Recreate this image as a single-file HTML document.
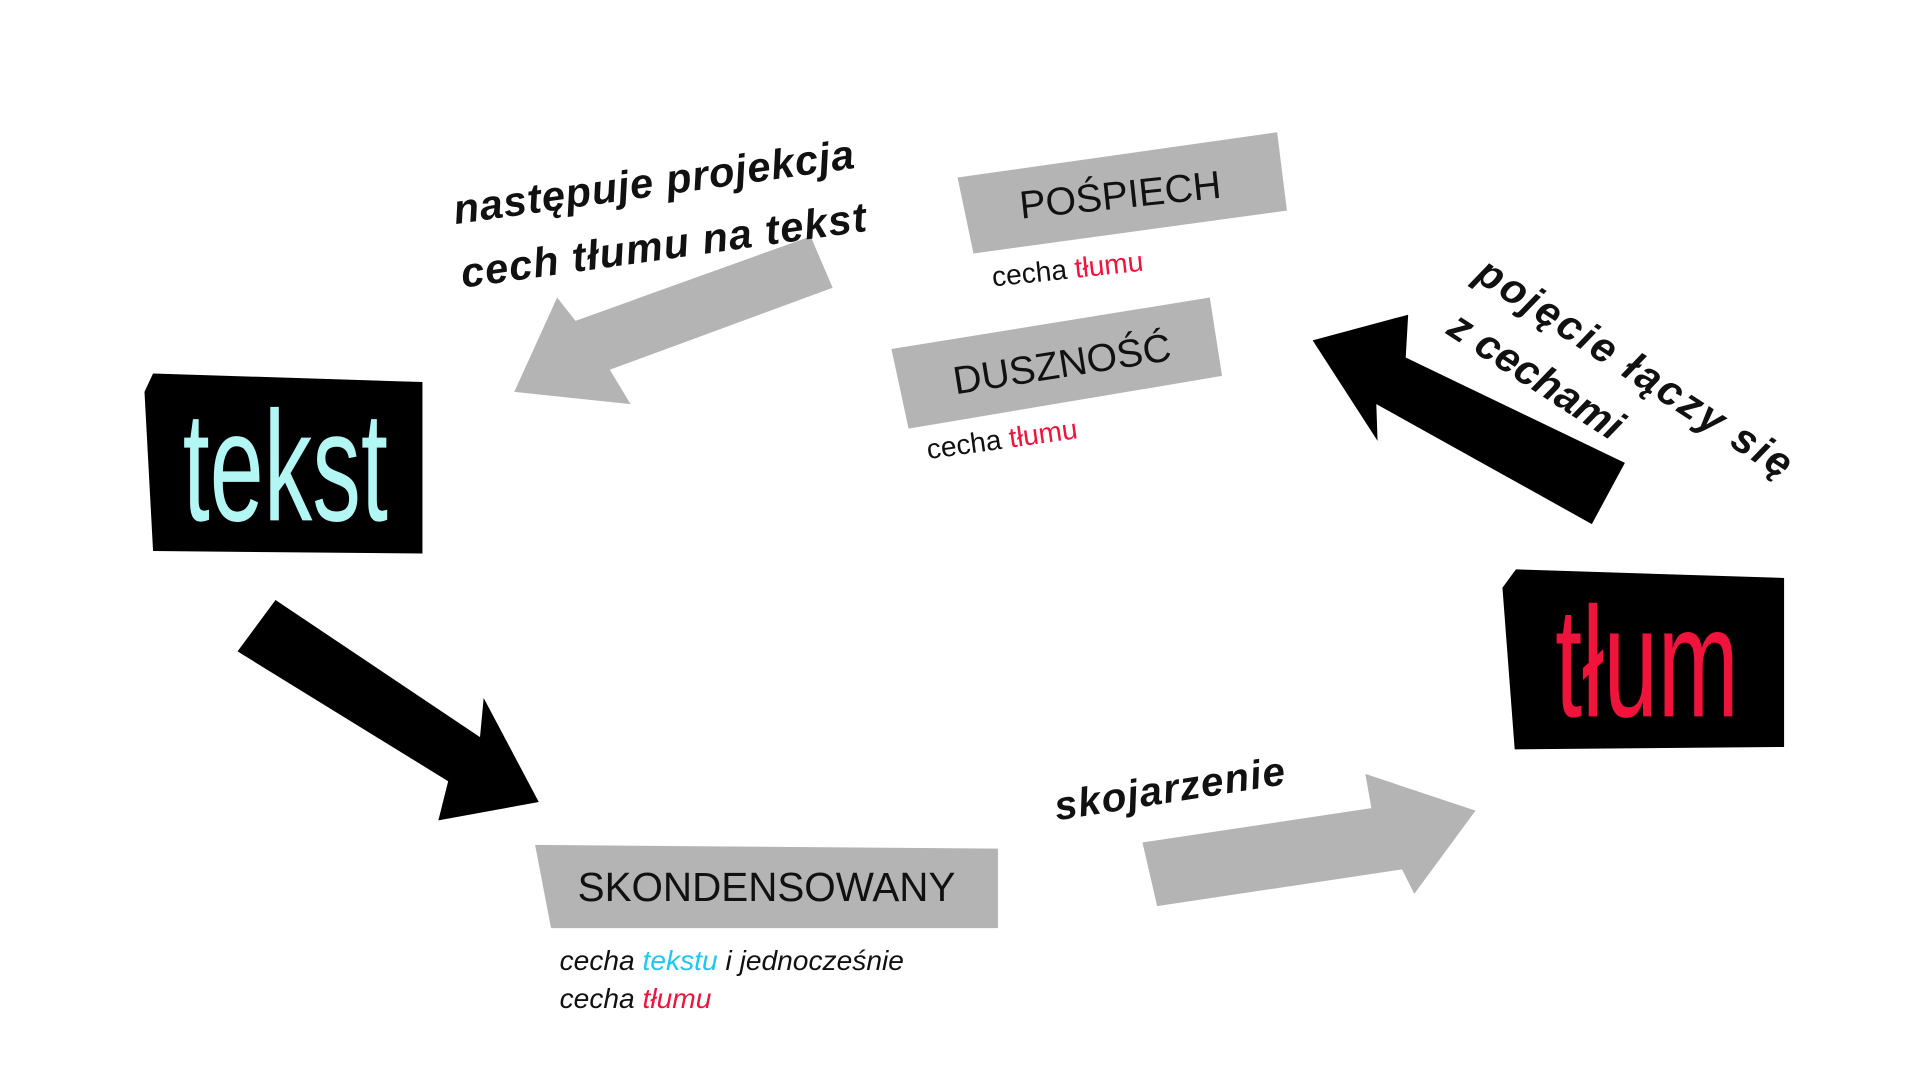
<!DOCTYPE html>
<html><head><meta charset="utf-8"><style>
html,body{margin:0;padding:0;background:#fff;width:1920px;height:1080px;overflow:hidden}
svg{display:block}
text{font-family:"Liberation Sans","DejaVu Sans",sans-serif}
</style></head><body>
<svg width="1920" height="1080" viewBox="0 0 1568 882" xmlns="http://www.w3.org/2000/svg">
<rect width="1568" height="882" fill="#fff"/>
<path d="M125,305 L345,312 L345,452 L125,450 L118,320 Z" fill="#000"/>
<text x="0" y="0" transform="translate(233,425) scale(0.62,1)" text-anchor="middle" font-size="128" fill="#b3f7f5">tekst</text>
<path d="M1238,465 L1457,472 L1457,610 L1237,612 L1227,480 Z" fill="#000"/>
<text x="0" y="0" transform="translate(1345,585) scale(0.62,1)" text-anchor="middle" font-size="128" fill="#f0143c">tłum</text>
<path d="M782,145 L1043,108 L1051,172 L795,207 Z" fill="#b4b4b4"/>
<text transform="translate(916,170) rotate(-6)" text-anchor="middle" font-size="32" fill="#111">POŚPIECH</text>
<text transform="translate(811,234) rotate(-6)" font-size="23" fill="#111">cecha <tspan fill="#f0143c">tłumu</tspan></text>
<path d="M728,285 L988,243 L998,307 L742,350 Z" fill="#b4b4b4"/>
<text transform="translate(869,308) rotate(-9)" text-anchor="middle" font-size="32" fill="#111">DUSZNOŚĆ</text>
<text transform="translate(758,375) rotate(-8)" font-size="23" fill="#111">cecha <tspan fill="#f0143c">tłumu</tspan></text>
<path d="M437,690 L815,693 L815,758 L450,758 Z" fill="#b4b4b4"/>
<text x="626" y="736" text-anchor="middle" font-size="33" fill="#111">SKONDENSOWANY</text>
<text x="457" y="792" font-size="23" font-style="italic" fill="#111">cecha  <tspan fill="#1ec8f0">tekstu</tspan> i  jednocześnie</text>
<text x="457" y="823" font-size="23" font-style="italic" fill="#111">cecha <tspan fill="#f0143c">tłumu</tspan></text>
<polygon points="420,320 455,243 470,262 662,193 680,235 498,302 515,330" fill="#b4b4b4"/>
<polygon points="1072,278 1150,257 1148,292 1327,378 1300,428 1124,330 1125,360" fill="#000"/>
<polygon points="225,490 392,602 395,570 440,655 358,670 366,638 194,532" fill="#000"/>
<polygon points="933,688 1120,660 1115,632 1205,662 1155,730 1145,710 945,740" fill="#b4b4b4"/>
<text transform="translate(372,183) rotate(-8)" font-size="34" font-weight="bold" font-style="italic" fill="#111" textLength="330">następuje projekcja</text>
<text transform="translate(378,235) rotate(-8)" font-size="34" font-weight="bold" font-style="italic" fill="#111" textLength="334">cech tłumu na tekst</text>
<text transform="translate(1203,228) rotate(33)" font-size="34" font-weight="bold" font-style="italic" fill="#111" textLength="300">pojęcie łączy się</text>
<text transform="translate(1180,272) rotate(33)" font-size="34" font-weight="bold" font-style="italic" fill="#111">z cechami</text>
<text transform="translate(863,670) rotate(-9)" font-size="33" font-weight="bold" font-style="italic" fill="#111" textLength="190">skojarzenie</text>
</svg>
</body></html>
